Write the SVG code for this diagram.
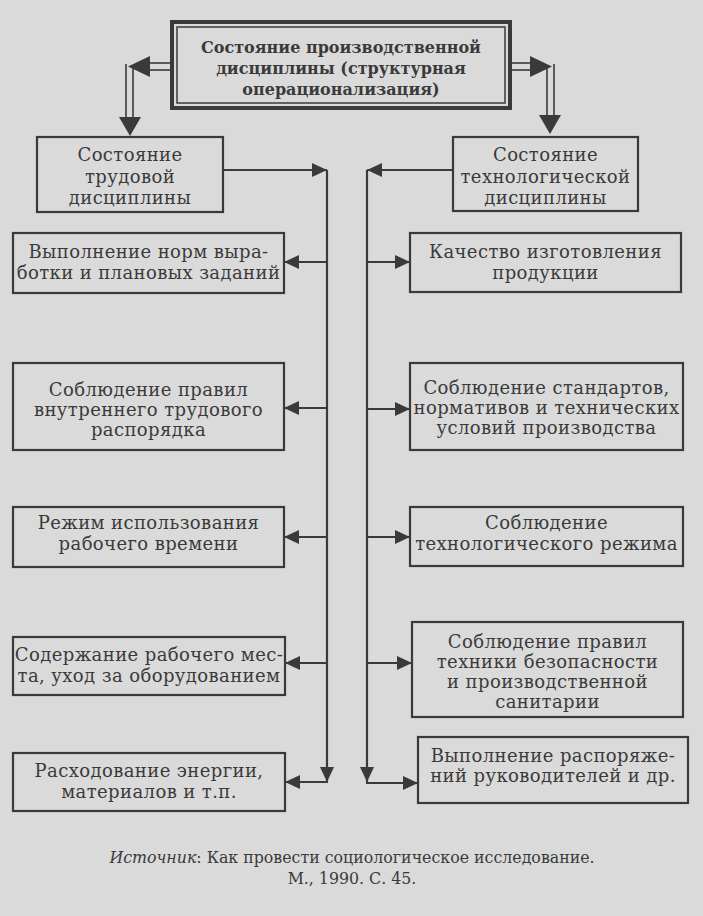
<svg xmlns="http://www.w3.org/2000/svg" width="703" height="916" viewBox="0 0 703 916">
<style>
.bg{fill:#dadada}
.box{fill:none;stroke:#3a3a3a;stroke-width:2.2}
.t{font-family:"DejaVu Serif","Liberation Serif",serif;font-size:18px;letter-spacing:0.4px;fill:#3a3a3a;text-anchor:middle}
.tt{font-family:"DejaVu Serif","Liberation Serif",serif;font-size:16px;font-weight:bold;fill:#3a3a3a;text-anchor:middle}
.ln{fill:none;stroke:#3a3a3a;stroke-width:2.2}
.dl{fill:none;stroke:#3a3a3a;stroke-width:1.6}
.ah{fill:#3a3a3a}
.f{font-family:"DejaVu Serif","Liberation Serif",serif;font-size:15.8px;fill:#3a3a3a;text-anchor:middle}
</style>
<defs>
<marker id="arr" markerUnits="userSpaceOnUse" markerWidth="16" markerHeight="14" refX="15" refY="7" orient="auto">
<path d="M0,0 L15,7 L0,14 z" fill="#3a3a3a"/>
</marker>
</defs>
<rect class="bg" x="0" y="0" width="703" height="916"/>

<g id="connectors">
<line class="dl" x1="170" y1="63" x2="148" y2="63"/>
<line class="dl" x1="170" y1="70" x2="148" y2="70"/>
<polygon class="ah" points="150,56 150,77 128,66.5"/>
<line class="dl" x1="126" y1="64" x2="126" y2="118"/>
<line class="dl" x1="133" y1="68" x2="133" y2="118"/>
<polygon class="ah" points="119,117 141,117 130,136"/>
<line class="dl" x1="512" y1="63" x2="532" y2="63"/>
<line class="dl" x1="512" y1="70" x2="532" y2="70"/>
<polygon class="ah" points="530,56 530,77 552,66.5"/>
<line class="dl" x1="547" y1="68" x2="547" y2="116"/>
<line class="dl" x1="554" y1="64" x2="554" y2="116"/>
<polygon class="ah" points="539,115 561,115 550,134"/>
<line class="ln" x1="223" y1="170" x2="327" y2="170" marker-end="url(#arr)"/>
<line class="ln" x1="327" y1="170" x2="327" y2="782" marker-end="url(#arr)"/>
<line class="ln" x1="327" y1="262" x2="284" y2="262" marker-end="url(#arr)"/>
<line class="ln" x1="327" y1="408" x2="284" y2="408" marker-end="url(#arr)"/>
<line class="ln" x1="327" y1="537" x2="284" y2="537" marker-end="url(#arr)"/>
<line class="ln" x1="327" y1="663" x2="285" y2="663" marker-end="url(#arr)"/>
<line class="ln" x1="328" y1="782" x2="285" y2="782" marker-end="url(#arr)"/>
<line class="ln" x1="453" y1="170" x2="367" y2="170" marker-end="url(#arr)"/>
<line class="ln" x1="367" y1="170" x2="367" y2="782" marker-end="url(#arr)"/>
<line class="ln" x1="367" y1="262" x2="410" y2="262" marker-end="url(#arr)"/>
<line class="ln" x1="367" y1="409" x2="410" y2="409" marker-end="url(#arr)"/>
<line class="ln" x1="367" y1="537" x2="410" y2="537" marker-end="url(#arr)"/>
<line class="ln" x1="367" y1="663" x2="412" y2="663" marker-end="url(#arr)"/>
<line class="ln" x1="366" y1="783" x2="418" y2="783" marker-end="url(#arr)"/>
</g>

<g id="title">
<rect x="172" y="22" width="338" height="86" fill="none" stroke="#3a3a3a" stroke-width="4"/>
<rect x="177" y="27" width="328" height="76" fill="none" stroke="#3a3a3a" stroke-width="1.5"/>
<text class="tt" x="341" y="53">Состояние  производственной</text>
<text class="tt" x="341" y="74">дисциплины (структурная</text>
<text class="tt" x="341" y="95">операционализация)</text>
</g>

<g id="labor">
<rect class="box" x="37" y="137" width="186" height="75"/>
<text class="t" x="130" y="161">Состояние</text>
<text class="t" x="130" y="183">трудовой</text>
<text class="t" x="130" y="204">дисциплины</text>
</g>

<g id="tech">
<rect class="box" x="453" y="137" width="185" height="74"/>
<text class="t" x="545.5" y="161">Состояние</text>
<text class="t" x="545.5" y="183">технологической</text>
<text class="t" x="545.5" y="204">дисциплины</text>
</g>

<g id="norms">
<rect class="box" x="13" y="233" width="271" height="60"/>
<text class="t" x="148.5" y="258">Выполнение  норм  выра-</text>
<text class="t" x="148.5" y="279">ботки и плановых заданий</text>
</g>

<g id="quality">
<rect class="box" x="410" y="233" width="271" height="59"/>
<text class="t" x="545.5" y="258">Качество  изготовления</text>
<text class="t" x="545.5" y="279">продукции</text>
</g>

<g id="rules">
<rect class="box" x="13" y="363" width="271" height="87"/>
<text class="t" x="148.5" y="396">Соблюдение  правил</text>
<text class="t" x="148.5" y="416">внутреннего  трудового</text>
<text class="t" x="148.5" y="436">распорядка</text>
</g>

<g id="standards">
<rect class="box" x="410" y="363" width="273" height="87"/>
<text class="t" x="546.5" y="394">Соблюдение  стандартов,</text>
<text class="t" x="546.5" y="414">нормативов и технических</text>
<text class="t" x="546.5" y="434">условий  производства</text>
</g>

<g id="worktime">
<rect class="box" x="13" y="507" width="271" height="60"/>
<text class="t" x="148.5" y="529">Режим  использования</text>
<text class="t" x="148.5" y="550">рабочего  времени</text>
</g>

<g id="techmode">
<rect class="box" x="410" y="507" width="273" height="59"/>
<text class="t" x="546.5" y="529">Соблюдение</text>
<text class="t" x="546.5" y="550">технологического  режима</text>
</g>

<g id="workplace">
<rect class="box" x="13" y="637" width="272" height="58"/>
<text class="t" x="149" y="661">Содержание  рабочего  мес-</text>
<text class="t" x="149" y="682">та, уход за оборудованием</text>
</g>

<g id="safety">
<rect class="box" x="412" y="622" width="271" height="95"/>
<text class="t" x="547.5" y="648">Соблюдение  правил</text>
<text class="t" x="547.5" y="668">техники безопасности</text>
<text class="t" x="547.5" y="688">и производственной</text>
<text class="t" x="547.5" y="708">санитарии</text>
</g>

<g id="energy">
<rect class="box" x="13" y="753" width="272" height="58"/>
<text class="t" x="149" y="777">Расходование  энергии,</text>
<text class="t" x="149" y="798">материалов и т.п.</text>
</g>

<g id="orders">
<rect class="box" x="418" y="737" width="270" height="66"/>
<text class="t" x="553" y="762">Выполнение  распоряже-</text>
<text class="t" x="553" y="782">ний руководителей и др.</text>
</g>

<g id="source">
<text class="f" x="352" y="863"><tspan font-style="italic">Источник</tspan>: Как провести социологическое исследование.</text>
<text class="f" x="352" y="884">М., 1990. С. 45.</text>
</g>
</svg>
